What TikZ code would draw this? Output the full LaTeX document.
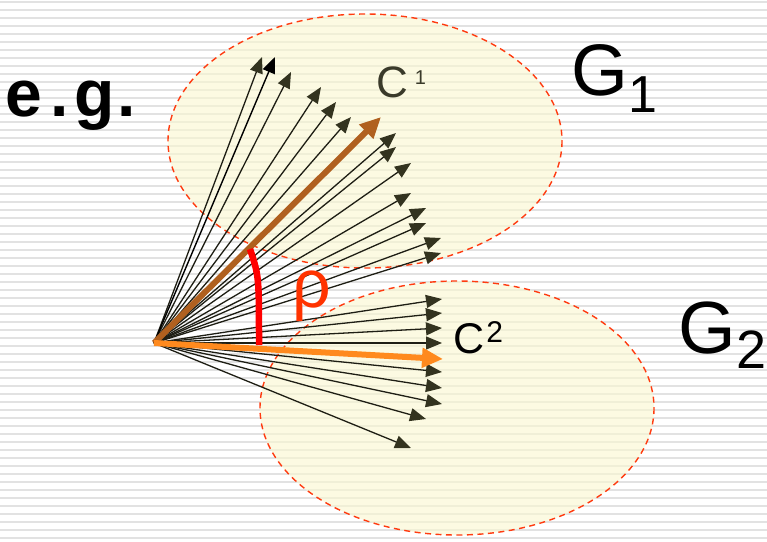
\documentclass[tikz,border=0pt]{standalone}
\usepackage{fontspec}
\setmainfont{Liberation Sans}
\usetikzlibrary{arrows.meta}
\definecolor{arrc}{HTML}{33331F}
\definecolor{linec}{HTML}{1E1E14}
\definecolor{brownc}{HTML}{B0601F}
\definecolor{orangec}{HTML}{FF8A1E}
\definecolor{dashc}{HTML}{FF3B10}
\definecolor{rhoc}{HTML}{FF3300}
\definecolor{arcc}{HTML}{FF0000}
\definecolor{fillc}{HTML}{FAF8D0}
\definecolor{stripec}{HTML}{E2E2E2}
\definecolor{ctext}{HTML}{3A3A2A}
\begin{document}
\begin{tikzpicture}[x=1pt,y=-1pt,
  vec/.style={draw=linec, line width=1.3pt, -{Triangle[length=16pt,width=13pt,color=arrc]}},
  vecblack/.style={draw=black, line width=1.4pt, -{Triangle[length=16pt,width=13pt,color=black]}},
  cbrown/.style={draw=brownc, line width=6pt, -{Triangle[length=21pt,width=19pt,color=brownc]}},
  corange/.style={draw=orangec, line width=6pt, -{Triangle[length=21pt,width=19pt,color=orangec]}},
  grpfill/.style={fill=fillc, fill opacity=0.6},
  grpborder/.style={draw=dashc, line width=1.4pt, dash pattern=on 6pt off 4.5pt},
  lbl/.style={inner sep=0pt, anchor=base west}
]
\useasboundingbox (0,0) rectangle (767,541);
\fill[white] (0,0) rectangle (767,541);
\foreach \i in {0,...,67} \fill[stripec] (0,{1+8*\i}) rectangle (767,{3+8*\i});

% groups
\path[grpfill] (365,141) ellipse [x radius=197, y radius=127];
\path[grpfill] (457,408) ellipse [x radius=197, y radius=127];
\draw[grpborder] (365,141) ellipse [x radius=197, y radius=127];
\draw[grpborder] (457,408) ellipse [x radius=197, y radius=127];

% origin and tips
\coordinate (O) at (154,343);
\coordinate (u1) at (262,57);
\coordinate (u2) at (275,57);
\coordinate (u3) at (291,72);
\coordinate (u4) at (321,87);
\coordinate (u5) at (336,102);
\coordinate (u6) at (351,117);
\coordinate (u7) at (396,133);
\coordinate (u8) at (396,147);
\coordinate (u9) at (411,163);
\coordinate (u10) at (411,193);
\coordinate (u11) at (426,208);
\coordinate (u12) at (426,223);
\coordinate (u13) at (441,238);
\coordinate (u14) at (441,253);
\coordinate (l1) at (442,299);
\coordinate (l2) at (442,313);
\coordinate (l3) at (442,328);
\coordinate (l4) at (442,343);
\coordinate (l5) at (442,372);
\coordinate (l6) at (442,388);
\coordinate (l7) at (442,404);
\coordinate (l8) at (426,419);
\coordinate (l9) at (411,448);
\coordinate (c1) at (381,117);
\coordinate (c2) at (443,359);

\foreach \t in {u1,u3,u4,u5,u6,u7,u8,u9,u10,u11,u12,u13,u14,l1,l2,l3,l4,l5,l6,l7,l8,l9}
  \draw[vec] (O) -- (\t);
\draw[vecblack] (O) -- (u2);
\draw[cbrown] (O) -- (c1);
\draw[corange] (O) -- (c2);

% angle
\coordinate (a1) at (250,249);
\coordinate (a2) at (259,345);
\draw[arcc, line width=6.5pt] (a1) .. controls (259,276) .. (a2);

% labels
\node[lbl] (eg) at (5.4,116) {\fontsize{66}{66}\selectfont\bfseries e\kern8pt.\kern5.5pt g\kern3pt.};
\node[lbl] (G1) at (571.4,95) {\fontsize{73}{73}\selectfont G\raisebox{-17pt}{\fontsize{52}{52}\selectfont 1}};
\node[lbl] (G2) at (678.3,353) {\fontsize{74}{74}\selectfont G\raisebox{-15pt}{\fontsize{54}{54}\selectfont 2}};
\node[lbl, text=ctext] (C1) at (376,97) {\fontsize{44}{44}\selectfont C\kern7pt\raisebox{12.7pt}{\fontsize{20}{20}\selectfont 1}};
\node[lbl] (C2) at (453,353) {\fontsize{43}{43}\selectfont C\kern2pt\raisebox{11pt}{\fontsize{30}{30}\selectfont 2}};
\node[lbl, text=rhoc] (rho) at (292,307) {\fontsize{68}{68}\selectfont ρ};
\end{tikzpicture}
\end{document}
